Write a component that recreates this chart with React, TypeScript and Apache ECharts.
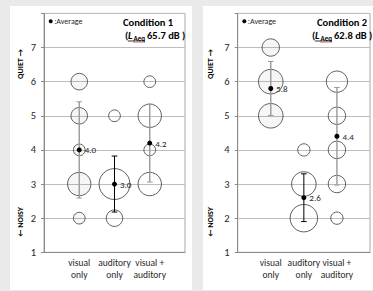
import React, { useEffect, useRef } from 'react';
import * as echarts from 'echarts';

const categories = ['visual\nonly', 'auditory\nonly', 'visual +\nauditory'];
const ratingLevels = [1, 2, 3, 4, 5, 6, 7];
// number of responses at each rating level (1..7), per category
const cond1Visual = [0, 1, 4, 1, 2, 2, 0];
const cond1Auditory = [0, 2, 7, 0, 1, 0, 0];
const cond1Both = [0, 0, 4, 1, 4, 1, 0];
const cond2Visual = [0, 0, 0, 0, 4, 4, 2];
const cond2Auditory = [0, 5, 4, 1, 0, 0, 0];
const cond2Both = [0, 1, 2, 2, 2, 3, 0];
const cond1Means = [4.0, 3.0, 4.2];
const cond2Means = [5.8, 2.6, 4.4];
const cond1Sd = [1.41, 0.82, 1.14];
const cond2Sd = [0.79, 0.7, 1.43];
const yTickLabels = ['1', '2', '3', '4', '5', '6', '7'];
const titles = ['Condition 1', 'Condition 2'];
const laeqValues = ['65.7 dB )', '62.8 dB )'];

const FONT = 'Carlito, Calibri, Lato, "Noto Sans", sans-serif';
const TXT = '#262626';
const BUBBLE_FILLS = ['rgba(0,0,0,0.035)', 'none', 'none'];

function bubbleData(cols: number[][]) {
  const out: number[][] = [];
  cols.forEach((counts, ci) => {
    counts.forEach((n, li) => {
      if (n > 0) out.push([ci + 1, ratingLevels[li], n]);
    });
  });
  return out;
}

export default function App() {
  const ref = useRef<HTMLDivElement>(null);
  useEffect(() => {
    if (!ref.current) return;
    const chart = echarts.init(ref.current, undefined, { renderer: 'svg' });
    const panels = [
      { counts: [cond1Visual, cond1Auditory, cond1Both], means: cond1Means, sd: cond1Sd, k: 5.85 },
      { counts: [cond2Visual, cond2Auditory, cond2Both], means: cond2Means, sd: cond2Sd, k: 6.15 },
    ];
    const grids = [
      { left: 44, top: 13.4, width: 141, height: 238.9 },
      { left: 237.7, top: 13.4, width: 141.2, height: 238.9 },
    ];
    const series: any[] = [];
    panels.forEach((p, gi) => {
      series.push({
        type: 'custom',
        xAxisIndex: gi,
        yAxisIndex: gi,
        data: bubbleData(p.counts),
        renderItem: (params: any, api: any) => {
          const c = api.coord([api.value(0), api.value(1)]);
          const r = p.k * Math.sqrt(api.value(2));
          return {
            type: 'circle',
            shape: { cx: c[0], cy: c[1], r },
            style: { fill: BUBBLE_FILLS[api.value(0) - 1], stroke: '#3a3a3a', lineWidth: 0.8 },
          };
        },
        z: 2,
        silent: true,
      });
      series.push({
        type: 'custom',
        xAxisIndex: gi,
        yAxisIndex: gi,
        data: p.means.map((m, i) => [i + 1, m - p.sd[i], m + p.sd[i]]),
        renderItem: (params: any, api: any) => {
          const x = api.value(0);
          const a = api.coord([x, api.value(1)]);
          const b = api.coord([x, api.value(2)]);
          const black = params.dataIndex === 1;
          const stroke = black ? '#000' : '#9a9a9a';
          const lw = black ? 1 : 1.4;
          const c = 2.8;
          return {
            type: 'group',
            children: [
              { type: 'line', shape: { x1: a[0], y1: a[1], x2: b[0], y2: b[1] }, style: { stroke, lineWidth: lw, fill: 'none' } },
              { type: 'line', shape: { x1: a[0] - c, y1: a[1], x2: a[0] + c, y2: a[1] }, style: { stroke, lineWidth: 1, fill: 'none' } },
              { type: 'line', shape: { x1: b[0] - c, y1: b[1], x2: b[0] + c, y2: b[1] }, style: { stroke, lineWidth: 1, fill: 'none' } },
            ],
          };
        },
        z: 3,
        silent: true,
      });
      series.push({
        type: 'scatter',
        xAxisIndex: gi,
        yAxisIndex: gi,
        data: p.means.map((m, i) => [i + 1, m]),
        symbolSize: 5,
        itemStyle: { color: '#000', opacity: 1 },
        label: {
          show: true,
          position: 'right',
          distance: 3,
          formatter: (prm: any) => prm.value[1].toFixed(1),
          fontFamily: FONT,
          fontSize: 9,
          color: TXT,
        },
        emphasis: { disabled: true },
        z: 4,
        silent: true,
      });
    });

    const xAxes = grids.map((_, gi) => ({
      type: 'value',
      gridIndex: gi,
      min: 0,
      max: 4,
      interval: 1,
      axisLine: { show: true, lineStyle: { color: '#8a8a8a', width: 1 } },
      axisTick: { show: false },
      splitLine: { show: false },
      axisLabel: {
        formatter: (v: number) => categories[v - 1] || '',
        fontFamily: FONT,
        fontSize: 9.5,
        lineHeight: 11.5,
        color: TXT,
        margin: 5,
        showMinLabel: true,
        showMaxLabel: true,
      },
    }));
    const yAxes = grids.map((_, gi) => ({
      type: 'value',
      gridIndex: gi,
      min: 1,
      max: 8,
      interval: 1,
      axisLine: { show: true, lineStyle: { color: '#8a8a8a', width: 1 } },
      axisTick: { show: true, length: 3, lineStyle: { color: '#8a8a8a' } },
      splitLine: { show: true, lineStyle: { color: '#bdbdbd', width: 1 } },
      axisLabel: {
        formatter: (v: number) => yTickLabels[v - 1] || '',
        fontFamily: FONT,
        fontSize: 10.5,
        color: TXT,
        margin: 8,
      },
    }));

    const graphics: any[] = [];
    const pan = [
      { titleX: 123, line2X: 125, legX: 50.7, sideX: 20 },
      { titleX: 317, line2X: 312, legX: 244.3, sideX: 210 },
    ];
    pan.forEach((g, i) => {
      graphics.push(
        { type: 'circle', shape: { cx: g.legX, cy: 21.3, r: 2 }, style: { fill: '#000' }, z: 10 },
        {
          type: 'text', x: g.legX + 3.5, y: 21.3,
          style: { text: ':Average', fontFamily: FONT, fontSize: 8, fill: TXT, verticalAlign: 'middle', align: 'left' }, z: 10,
        },
        {
          type: 'text', x: g.titleX, y: 22,
          style: { text: titles[i], fontFamily: FONT, fontSize: 10.5, fontWeight: 'bold', fill: '#000', verticalAlign: 'middle', align: 'left' }, z: 10,
        },
        {
          type: 'text', x: g.line2X, y: 35,
          style: { text: '(', fontFamily: FONT, fontSize: 10.5, fontWeight: 'bold', fill: '#000', verticalAlign: 'middle', align: 'left' }, z: 10,
        },
        {
          type: 'text', x: g.line2X + 3, y: 35,
          style: { text: 'L', fontFamily: FONT, fontSize: 10.5, fontWeight: 'bold', fontStyle: 'italic', fill: '#000', verticalAlign: 'middle', align: 'left' }, z: 10,
        },
        {
          type: 'text', x: g.line2X + 8.5, y: 38,
          style: { text: 'Aeq', fontFamily: FONT, fontSize: 7, fontWeight: 'bold', fill: '#000', verticalAlign: 'middle', align: 'left' }, z: 10,
        },
        {
          type: 'text', x: g.line2X + 22, y: 35,
          style: { text: laeqValues[i], fontFamily: FONT, fontSize: 10.5, fontWeight: 'bold', fill: '#000', verticalAlign: 'middle', align: 'left' }, z: 10,
        },
        { type: 'line', shape: { x1: g.line2X + 3, y1: 41, x2: g.line2X + 20, y2: 41 }, style: { stroke: '#000', lineWidth: 0.8 }, z: 10 },
        { type: 'line', shape: { x1: g.line2X + 8.5, y1: 42.5, x2: g.line2X + 20, y2: 42.5 }, style: { stroke: '#e03030', lineWidth: 0.8, lineDash: [1, 1] }, z: 10 },
        {
          type: 'text', x: g.sideX, y: 64, rotation: Math.PI / 2,
          style: { text: 'QUIET →', fontFamily: FONT, fontSize: 8, fontWeight: 'bold', fill: '#000', verticalAlign: 'middle', align: 'center' }, z: 10,
        },
        {
          type: 'text', x: g.sideX, y: 222, rotation: Math.PI / 2,
          style: { text: '← NOISY', fontFamily: FONT, fontSize: 8, fontWeight: 'bold', fill: '#000', verticalAlign: 'middle', align: 'center' }, z: 10,
        }
      );
    });

    chart.setOption({
      animation: false,
      backgroundColor: 'transparent',
      grid: grids.map((g) => ({ ...g, show: true, borderColor: '#a8a8a8', borderWidth: 1, backgroundColor: 'transparent' })),
      xAxis: xAxes,
      yAxis: yAxes,
      series,
      graphic: graphics,
    });
    return () => chart.dispose();
  }, []);

  return (
    <div style={{ position: 'fixed', left: 0, top: 0, width: 373, height: 291, background: '#eaeaea', overflow: 'hidden' }}>
      <div style={{ position: 'absolute', left: 10, top: 6, width: 182, height: 284, background: '#fff' }} />
      <div style={{ position: 'absolute', left: 203, top: 6, width: 200, height: 284, background: '#fff' }} />
      <div ref={ref} style={{ position: 'absolute', left: 0, top: 0, width: 373, height: 291 }} />
    </div>
  );
}
